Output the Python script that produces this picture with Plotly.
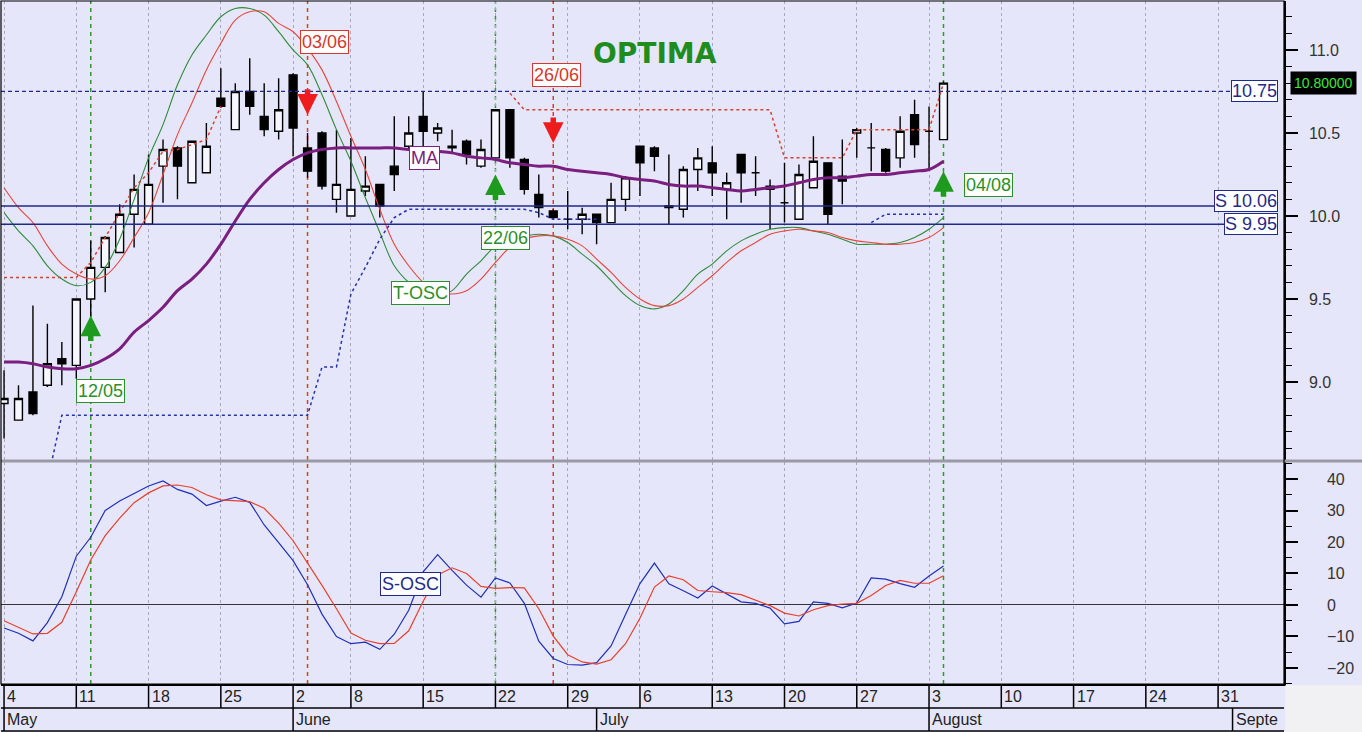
import numpy as np
import pandas as pd
import plotly.graph_objects as go

# trading days (June 1st closed)
days = pd.bdate_range("2020-05-04", "2020-09-04")
days = days[days != pd.Timestamp("2020-06-01")]

opens = [8.87, 8.77, 8.94, 8.98, 9.14, 9.10, 9.50, 9.69, 9.78, 10.01,
         9.95, 10.30, 10.41, 10.20, 10.26, 10.71, 10.52, 10.75, 10.60, 10.51,
         10.85, 10.41, 10.50, 10.10, 10.00, 10.15, 10.19, 10.30, 10.42, 10.60,
         10.50, 10.42, 10.45, 10.30, 10.35, 10.64, 10.34, 10.13, 10.03, 9.98,
         9.98, 10.01, 9.96, 10.10, 10.42, 10.41, 10.06, 10.04, 10.28, 10.32,
         10.16, 10.37, 10.26, 10.18, 10.08, 9.98, 10.17, 10.32, 10.24, 10.50,
         10.41, 10.40, 10.35, 10.61, 10.51, 10.46]
highs = [9.07, 8.98, 9.46, 9.35, 9.24, 9.50, 9.85, 9.88, 10.07, 10.25,
         10.37, 10.46, 10.42, 10.45, 10.56, 10.89, 10.80, 10.95, 10.80, 10.83,
         10.86, 10.50, 10.51, 10.52, 10.47, 10.36, 10.19, 10.60, 10.60, 10.75,
         10.56, 10.52, 10.46, 10.46, 10.64, 10.64, 10.35, 10.25, 10.04, 10.15,
         10.05, 10.01, 10.20, 10.24, 10.42, 10.42, 10.37, 10.30, 10.41, 10.42,
         10.26, 10.37, 10.36, 10.22, 10.32, 10.31, 10.48, 10.32, 10.46, 10.53,
         10.56, 10.41, 10.60, 10.70, 10.66, 10.81]
lows = [8.66, 8.77, 8.80, 8.97, 8.98, 9.02, 9.39, 9.54, 9.78, 9.81,
        9.95, 10.08, 10.10, 10.20, 10.26, 10.65, 10.52, 10.61, 10.48, 10.46,
        10.36, 10.23, 10.16, 10.02, 10.00, 10.12, 9.99, 10.15, 10.41, 10.42,
        10.45, 10.38, 10.31, 10.29, 10.35, 10.29, 10.13, 9.99, 9.98, 9.92,
        9.89, 9.83, 9.96, 10.03, 10.12, 10.27, 9.95, 9.99, 10.15, 10.12,
        9.98, 10.08, 10.12, 9.92, 9.96, 9.98, 10.17, 9.95, 10.07, 10.35,
        10.27, 10.26, 10.29, 10.35, 10.28, 10.46]
closes = [8.90, 8.90, 8.81, 9.11, 9.11, 9.50, 9.69, 9.87, 10.01, 10.16,
          10.19, 10.40, 10.30, 10.45, 10.42, 10.66, 10.75, 10.66, 10.52, 10.64,
          10.53, 10.27, 10.18, 10.19, 10.16, 10.18, 10.06, 10.25, 10.50, 10.51,
          10.53, 10.41, 10.37, 10.40, 10.64, 10.35, 10.16, 10.05, 9.99, 9.98,
          10.01, 9.96, 10.10, 10.23, 10.32, 10.36, 10.05, 10.28, 10.35, 10.26,
          10.20, 10.26, 10.26, 10.16, 10.08, 10.25, 10.33, 10.01, 10.21, 10.52,
          10.41, 10.27, 10.51, 10.43, 10.51, 10.80]

ma = [9.12, 9.12, 9.11, 9.09, 9.08, 9.08, 9.10, 9.14, 9.20, 9.30,
      9.37, 9.45, 9.55, 9.62, 9.71, 9.83, 9.97, 10.10, 10.20, 10.28,
      10.34, 10.38, 10.40, 10.41, 10.41, 10.41, 10.41, 10.41, 10.40, 10.40,
      10.39, 10.38, 10.36, 10.35, 10.34, 10.32, 10.31, 10.30, 10.30, 10.28,
      10.27, 10.26, 10.25, 10.23, 10.22, 10.21, 10.19, 10.18, 10.18, 10.17,
      10.16, 10.15, 10.16, 10.17, 10.18, 10.20, 10.22, 10.23, 10.23, 10.24,
      10.25, 10.25, 10.26, 10.27, 10.28, 10.33]

tosc_fast = [10.02, 9.91, 9.82, 9.70, 9.62, 9.58, 9.60, 9.69, 9.86, 10.10,
             10.35, 10.55, 10.79, 10.97, 11.09, 11.20, 11.25, 11.25, 11.21, 11.11,
             11.00, 10.91, 10.73, 10.52, 10.33, 10.11, 9.90, 9.70, 9.60, 9.54,
             9.52, 9.55, 9.65, 9.73, 9.82, 9.87, 9.88, 9.89, 9.88, 9.84,
             9.77, 9.70, 9.61, 9.52, 9.46, 9.44, 9.47, 9.55, 9.65, 9.71,
             9.79, 9.85, 9.89, 9.92, 9.93, 9.93, 9.91, 9.89, 9.86, 9.83,
             9.83, 9.83, 9.84, 9.87, 9.92, 9.99]
tosc_slow = [10.17, 10.05, 9.96, 9.82, 9.71, 9.65, 9.62, 9.64, 9.73, 9.87,
             10.02, 10.25, 10.49, 10.68, 10.88, 11.04, 11.18, 11.23, 11.23, 11.16,
             11.11, 11.01, 10.88, 10.69, 10.48, 10.28, 10.04, 9.83, 9.70, 9.60,
             9.54, 9.53, 9.55, 9.62, 9.72, 9.81, 9.86, 9.88, 9.88, 9.86,
             9.82, 9.74, 9.66, 9.57, 9.50, 9.46, 9.46, 9.50, 9.57, 9.64,
             9.72, 9.79, 9.84, 9.89, 9.91, 9.92, 9.91, 9.90, 9.87, 9.85,
             9.84, 9.83, 9.83, 9.84, 9.87, 9.93]

N = None
stop_low = [N, N, N, 8.40, 8.80, 8.80, 8.80, 8.80, 8.80, 8.80,
            8.80, 8.80, 8.80, 8.80, 8.80, 8.80, 8.80, 8.80, 8.80, 8.80,
            8.80, 8.80, 9.09, 9.09, 9.53, 9.69, 9.86, 9.99, 10.04, 10.04,
            10.04, 10.04, 10.04, 10.04, 10.04, 10.04, 10.04, 10.02, 9.98, 9.98,
            9.98, 9.98, N, N, N, N, N, N, N, N,
            N, N, N, N, N, N, N, N, N, N,
            9.96, 10.01, 10.01, 10.01, 10.01, 10.01]
stop_high = [9.63, 9.63, 9.63, 9.63, 9.63, 9.63, 9.72, 9.87, 10.02, 10.17,
             10.26, 10.39, 10.40, 10.43, 10.46, 10.66, N, N, N, N,
             N, N, N, N, N, N, N, N, N, N,
             N, N, N, N, N, 10.74, 10.64, 10.64, 10.64, 10.64,
             10.64, 10.64, 10.64, 10.64, 10.64, 10.64, 10.64, 10.64, 10.64, 10.64,
             10.64, 10.64, 10.64, 10.64, 10.35, 10.35, 10.35, 10.35, 10.35, 10.52,
             10.52, 10.52, 10.52, 10.52, 10.52, 10.80]

sosc_fast = [-7.3, -9.0, -11.4, -5.6, 2.6, 15.5, 21.5, 30.0, 33.0, 35.5,
             37.8, 39.4, 36.7, 35.2, 31.6, 33.0, 34.2, 32.6, 25.4, 19.8,
             14.1, 6.4, -2.9, -10.0, -12.3, -11.8, -14.1, -9.3, -1.7, 10.5,
             16.0, 11.0, 6.3, 2.5, 8.6, 7.0, 0.5, -11.5, -17.0, -18.9,
             -19.1, -18.3, -13.0, -3.0, 6.8, 13.3, 6.7, 4.5, 2.2, 6.0,
             3.5, 1.0, 0.5, -1.0, -6.0, -5.2, 1.0, 0.5, -0.9, 0.6,
             8.6, 8.2, 6.8, 5.6, 9.2, 12.4]
sosc_slow = [-5.0, -7.2, -9.2, -9.0, -5.5, 4.2, 14.3, 22.0, 27.6, 32.5,
             35.6, 37.8, 38.1, 37.3, 35.0, 33.4, 33.0, 32.8, 30.7, 26.0,
             20.4, 13.5, 6.2, -1.2, -8.9, -11.2, -12.3, -12.2, -8.2, 1.2,
             9.5, 11.8, 10.0, 5.9, 5.3, 5.5, 5.4, -1.2, -9.9, -15.8,
             -18.1, -18.8, -17.4, -12.3, -4.2, 5.7, 9.2, 8.0, 4.6, 4.2,
             3.9, 3.3, 1.5, -0.2, -2.6, -3.5, -1.5, -0.2, 0.3, 0.5,
             3.0, 6.2, 7.8, 6.9, 6.9, 9.3]

buy_idx = [6, 34, 65]
buy_level = [9.40, 10.25, 10.27]
sell_idx = [21, 38]
sell_level = [10.61, 10.44]

levels = [10.75, 10.06, 9.95]
level_text = ["10.75", "S 10.06", "S 9.95"]
last_price = 10.80

x = np.arange(len(closes))

BG = "#E6E6FA"
NAVY = "#1F2A8A"
GREEN = "#2A8F2A"
RED = "#D9362B"
FONT = "Liberation Sans"

fig = go.Figure()

fig.add_trace(go.Scatter(x=x, y=tosc_fast, mode="lines", line=dict(color="#2E8B3A", width=1.1, shape="spline")))
fig.add_trace(go.Scatter(x=x, y=tosc_slow, mode="lines", line=dict(color="#E8453C", width=1.1, shape="spline")))
fig.add_trace(go.Scatter(x=x, y=stop_low, mode="lines", line=dict(color="#2433B0", width=1.5, dash="3px,3px")))
fig.add_trace(go.Scatter(x=x, y=stop_high, mode="lines", line=dict(color="#D8402E", width=1.5, dash="3px,3px")))

fig.add_trace(go.Candlestick(
    x=x, open=opens, high=highs, low=lows, close=closes,
    increasing=dict(line=dict(color="black", width=1.4), fillcolor="#F6F6FF"),
    decreasing=dict(line=dict(color="black", width=1.4), fillcolor="black"),
    whiskerwidth=0,
))

fig.add_trace(go.Scatter(x=x, y=ma, mode="lines", line=dict(color="#7A1E80", width=3, shape="spline")))

fig.add_trace(go.Scatter(x=x, y=sosc_fast, mode="lines", line=dict(color="#2030B8", width=1.2), yaxis="y2"))
fig.add_trace(go.Scatter(x=x, y=sosc_slow, mode="lines", line=dict(color="#E8402E", width=1.2), yaxis="y2"))

# week / month positions for the date scale
week_idx = [0] + [i for i in range(1, len(days)) if days[i].weekday() < days[i - 1].weekday()]
month_idx = [0] + [i for i in range(1, len(days)) if days[i].month != days[i - 1].month]

# signal lines
for i in buy_idx:
    fig.add_shape(type="line", xref="x", yref="paper", x0=i, x1=i, y0=0, y1=1,
                  line=dict(color="#2A9A2A", width=1.5, dash="4px,4px"), layer="below")
for i in sell_idx:
    fig.add_shape(type="line", xref="x", yref="paper", x0=i, x1=i, y0=0, y1=1,
                  line=dict(color="#E03A2A", width=1.5, dash="4px,4px"), layer="below")

# price levels
shifts = [0, 5, 0]
for lv, txt, sh in zip(levels, level_text, shifts):
    fig.add_shape(type="line", xref="paper", yref="y", x0=0, x1=0.99, y0=lv, y1=lv,
                  line=dict(color=NAVY, width=1.3, dash="solid" if txt.startswith("S") else "4px,3px"))
    fig.add_annotation(xref="paper", yref="y", x=0.9953, y=lv, yshift=sh, text=txt, xanchor="right",
                       showarrow=False, font=dict(family=FONT, size=18, color=NAVY),
                       bgcolor="white", bordercolor=NAVY, borderwidth=1, borderpad=0)

fig.add_annotation(xref="paper", yref="y", x=1.0047, y=last_price, text=f"{last_price:.5f}",
                   xanchor="left", showarrow=False, font=dict(family=FONT, size=14, color="#3CE83C"),
                   bgcolor="black", borderpad=3)

# arrows
for i, lv in zip(buy_idx, buy_level):
    fig.add_annotation(x=i, y=lv, ax=0, ay=27, text="", showarrow=True, arrowhead=2,
                       arrowsize=0.75, arrowwidth=5.5, arrowcolor="#1E9A1E")
for i, lv in zip(sell_idx, sell_level):
    fig.add_annotation(x=i, y=lv, ax=0, ay=-27, text="", showarrow=True, arrowhead=2,
                       arrowsize=0.75, arrowwidth=5.5, arrowcolor="#EE1C1C")


def box(txt, xx, yy, color, yref="y"):
    fig.add_annotation(x=xx, y=yy, yref=yref, text=txt, showarrow=False,
                       font=dict(family=FONT, size=18, color=color),
                       bgcolor="white", bordercolor=color, borderwidth=1, borderpad=1)


lab_pos = {6: (6.7, 8.946), 34: (34.7, 9.867), 65: (68.1, 10.187),
           21: (22.2, 11.048), 38: (38.2, 10.85)}
for i in buy_idx:
    box(days[i].strftime("%d/%m"), *lab_pos[i], GREEN)
for i in sell_idx:
    box(days[i].strftime("%d/%m"), *lab_pos[i], RED)

box("T-OSC", 28.8, 9.536, GREEN)
box("MA", 29.1, 10.35, "#7A1E80")
box("S-OSC", 28.1, 6.7, NAVY, yref="y2")

fig.add_annotation(xref="paper", yref="paper", x=0.5097, y=0.950, text="<b>OPTIMA</b>",
                   showarrow=False, font=dict(family="DejaVu Sans", size=28, color="#1E8C1E"))

# date scale below the plot
r1, r2, r3 = -0.0351, -0.0688, 0.0
for i in week_idx:
    fig.add_shape(type="line", xref="x", yref="paper", x0=i, x1=i, y0=r3, y1=r1,
                  line=dict(color="black", width=1.5))
    fig.add_annotation(x=i, xref="x", yref="paper", y=-0.0176, text=str(days[i].day),
                       xanchor="left", yanchor="middle", xshift=1, showarrow=False,
                       font=dict(family=FONT, size=16, color="#222"))
for k, i in enumerate(month_idx):
    name = days[i].strftime("%B")
    if k == len(month_idx) - 1:
        name = name[:5]
    fig.add_shape(type="line", xref="x", yref="paper", x0=i, x1=i, y0=r1, y1=r2,
                  line=dict(color="black", width=1.5))
    fig.add_annotation(x=i, xref="x", yref="paper", y=-0.0527, text=name,
                       xanchor="left", yanchor="middle", xshift=1, showarrow=False,
                       font=dict(family=FONT, size=16, color="#222"))
for yy in (r1, r2):
    fig.add_shape(type="line", xref="paper", yref="paper", x0=0, x1=1, y0=yy, y1=yy,
                  line=dict(color="black", width=1.5))

fig.add_shape(type="rect", xref="paper", yref="paper", x0=1.001, x1=1.07, y0=r2 - 0.01, y1=-0.002,
              fillcolor="#F1F1F4", line=dict(width=0))
fig.add_shape(type="line", xref="paper", yref="paper", x0=0, x1=1.07, y0=0.3265, y1=0.3265,
              line=dict(color="#9A9AA4", width=3))
fig.add_shape(type="rect", xref="paper", yref="paper", x0=0, x1=1, y0=0, y1=1,
              line=dict(color="black", width=1.2))

fig.update_layout(
    width=1362, height=732,
    margin=dict(l=1, r=78, t=1, b=48),
    paper_bgcolor=BG, plot_bgcolor=BG,
    showlegend=False, hovermode=False, boxgap=0.22,
    xaxis=dict(range=[-0.21, 88.56], tickvals=week_idx, showticklabels=False, ticks="",
               showgrid=True, gridcolor="#A8A8B8", griddash="dot", gridwidth=1,
               zeroline=False, showline=True, linecolor="black", linewidth=1.5,
               anchor="y2", rangeslider=dict(visible=False)),
    yaxis=dict(domain=[0.328, 1], range=[8.530, 11.295], side="right", anchor="x",
               tickvals=[9.0, 9.5, 10.0, 10.5, 11.0], tickformat=".1f",
               ticks="outside", ticklen=12, tickwidth=1.5, tickcolor="black",
               minor=dict(dtick=0.1, ticklen=6, ticks="outside", tickcolor="black", tickwidth=1.2),
               showgrid=False, zeroline=False, showline=True, linecolor="black", linewidth=1.5,
               automargin=False,
               ticklabelstandoff=8, tickfont=dict(family=FONT, size=16, color="#333")),
    yaxis2=dict(domain=[0, 0.325], range=[-25.1, 45.4], side="right", anchor="x",
                tickvals=[-20, -10, 0, 10, 20, 30, 40],
                ticks="outside", ticklen=12, tickwidth=1.5, tickcolor="black",
                minor=dict(dtick=5, ticklen=6, ticks="outside", tickcolor="black", tickwidth=1.2),
                showgrid=False, zeroline=True, zerolinecolor="#333", zerolinewidth=1.3,
                showline=True, linecolor="black", linewidth=1.5, automargin=False,
                ticklabelstandoff=26, tickfont=dict(family=FONT, size=16, color="#333")),
)

fig.write_html("out.html", config={"displayModeBar": False},
               post_script="document.body.style.margin='0';document.body.style.overflow='hidden';")
